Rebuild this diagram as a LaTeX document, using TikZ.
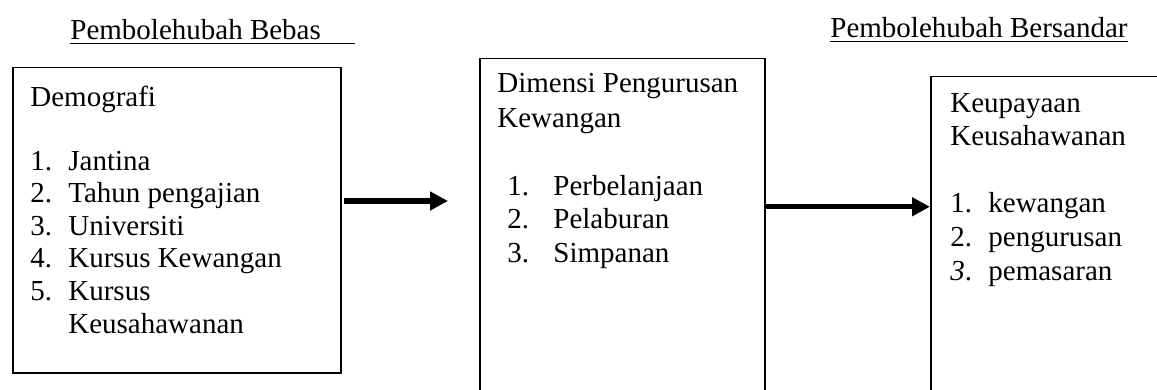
\documentclass[tikz,border=0pt]{standalone}
\usepackage{fontspec}
\setmainfont{Liberation Serif}
\usetikzlibrary{arrows.meta}
\begin{document}
\begin{tikzpicture}[x=0.5pt,y=-0.5pt,>={Triangle[length=9pt,width=9pt]},
    teks/.style={anchor=base west,inner sep=0pt,font=\fontsize{14.5}{16}\selectfont},
    kotak/.style={draw,line width=0.75pt,inner sep=0pt,anchor=north west},
    anak/.style={line width=2.6pt,->}]
    \path[use as bounding box,clip](0,0)rectangle(1157,390);
    % tajuk
    \node[teks](bebas) at (70,40){\underline{Pembolehubah Bebas\hspace{17pt}}};
    \node[teks](sandar) at (830,38){\underline{Pembolehubah Bersandar}};
    % kotak
    \node[kotak,minimum width=164pt,minimum height=152.5pt](demo) at (12,67){};
    \node[kotak,minimum width=142.5pt,minimum height=171pt](dimensi) at (479,58){};
    \node[kotak,minimum width=117.5pt,minimum height=162pt](upaya) at (930,76){};
    % demografi
    \node[teks](d0) at (30,107){Demografi};
    \foreach \n/\y/\t in {1/170/Jantina,2/203/Tahun pengajian,3/235/Universiti,4/267/Kursus Kewangan,5/300/Kursus}
    {
        \node[teks](dn\n) at (30,\y){\n.};
        \node[teks](d\n) at (68,\y){\t};
    }
    \node[teks](d6) at (68,333){Keusahawanan};
    % dimensi
    \node[teks](m0) at (497,93){Dimensi Pengurusan};
    \node[teks](m00) at (497,127){Kewangan};
    \foreach \n/\y/\t in {1/195/Perbelanjaan,2/228/Pelaburan,3/262/Simpanan}
    {
        \node[teks](mn\n) at (507,\y){\n.};
        \node[teks](m\n) at (553,\y){\t};
    }
    % keupayaan
    \node[teks](k0) at (950,113){Keupayaan};
    \node[teks](k00) at (950,146){Keusahawanan};
    \node[teks](kn1) at (950,213){1.};
    \node[teks](kn2) at (950,246){2.};
    \node[teks](kn3) at (950,280){\textit{3}.};
    \node[teks](k1) at (988,213){kewangan};
    \node[teks](k2) at (988,246){pengurusan};
    \node[teks](k3) at (988,280){pemasaran};
    % anak panah
    \coordinate(a1) at (344,201);
    \coordinate(a2) at (448,201);
    \draw[anak](a1)--(a2);
    \draw[anak]([yshift=11.5pt]dimensi.east)--([yshift=16pt]upaya.west);
\end{tikzpicture}
\end{document}
